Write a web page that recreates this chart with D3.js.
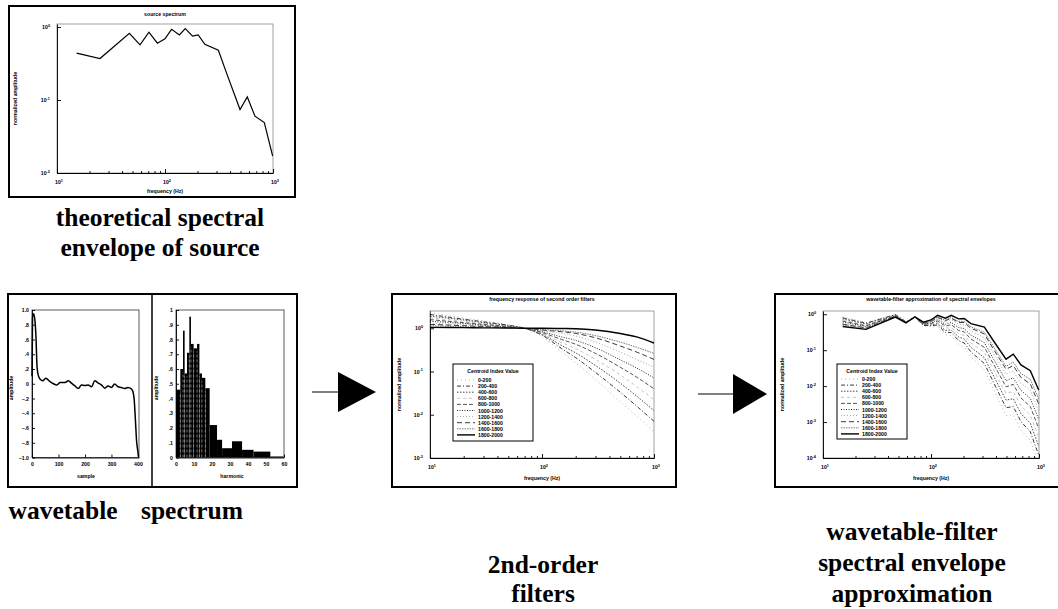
<!DOCTYPE html>
<html>
<head>
<meta charset="utf-8">
<script src="https://cdn.jsdelivr.net/npm/d3@7"></script>
<style>
  body { margin: 0; background: #fff; }
  svg { display: block; }
  .ax path, .ax line { stroke: #000; stroke-width: 0.9; }
</style>
</head>
<body>
<svg id="fig" width="1058" height="609"></svg>
<script>
// ---------------- data ----------------

// theoretical source spectrum (frequency in Hz, normalized amplitude)
const sourceFreq = [15.2, 25, 46.8, 58.7, 71, 85, 100, 115, 136, 154, 180, 203, 234, 312, 373, 495, 578, 681, 831, 993];
const sourceAmp  = [0.44, 0.37, 0.82, 0.57, 0.85, 0.60, 0.69, 0.93, 0.78, 0.95, 0.75, 0.78, 0.58, 0.48, 0.23, 0.074, 0.11, 0.060, 0.049, 0.017];

// one period of the wavetable (sample index, amplitude)
const tableIndex = [0, 2, 6, 11, 15, 19, 24, 31, 41, 52, 69, 81, 94, 106, 125, 137, 150, 162, 175, 187, 200,
                    212, 225, 237, 250, 262, 275, 287, 300, 312, 325, 337, 350, 362, 375, 381, 386, 391, 395, 399, 402];
const tableValue = [0.10, 0.90, 0.95, 0.86, 0.64, 0.23, 0.11, 0.06, 0.04, 0.075, 0.025, 0.0, -0.016, 0.017, 0.017, 0.04, 0.005, -0.03, -0.065, -0.016, -0.025,
                    -0.016, -0.04, 0.04, 0.01, -0.016, -0.06, -0.03, -0.05, -0.004, -0.04, -0.05, -0.065, -0.05, -0.07, -0.105, -0.22, -0.53, -0.78, -0.90, -0.99];
const tableTicks = [0, 100, 200, 300, 400];
const ampTicks = [1, 0.8, 0.6, 0.4, 0.2, 0, -0.2, -0.4, -0.6, -0.8, -1];

// harmonic spectrum of the wavetable (bin edges and bar heights)
const harmonicEdges = [0, 2.4, 3.9, 4.8, 6.1, 7.4, 8.3, 9.8, 11.7, 13, 14.4, 16.3, 18.7, 22.8, 25.6, 31.1, 36.7, 43.1, 52.4, 59.8];
const harmonicAmp   = [0.46, 0.60, 0.86, 0.57, 0.71, 0.955, 0.77, 0.74, 0.77, 0.57, 0.54, 0.47, 0.22, 0.12, 0.063, 0.11, 0.052, 0.04, 0.007];
const harmonicTicks = [0, 10, 20, 30, 40, 50, 60];
const specTicks = [0, 0.1, 0.2, 0.3, 0.4, 0.5, 0.6, 0.7, 0.8, 0.9, 1];

// centroid classes shared by both filter plots
const centroidBins = ["0-200", "200-400", "400-600", "600-800", "800-1000",
                      "1000-1200", "1200-1400", "1400-1600", "1600-1800", "1800-2000"];

// 2nd-order filter magnitude responses, log10 gain per centroid class
const filterFreq = [10, 20, 30, 50, 70, 100, 150, 200, 300, 500, 700, 1000];
const filterGainLog10 = [
  [0.36, 0.24, 0.17, 0.08, 0.00, -0.19, -0.55, -0.80, -1.18, -1.70, -2.03, -2.40],
  [0.32, 0.21, 0.15, 0.07, 0.00, -0.16, -0.47, -0.68, -1.02, -1.48, -1.80, -2.15],
  [0.28, 0.19, 0.13, 0.06, 0.00, -0.14, -0.40, -0.57, -0.86, -1.27, -1.57, -1.90],
  [0.24, 0.16, 0.11, 0.05, 0.00, -0.12, -0.33, -0.47, -0.72, -1.08, -1.35, -1.65],
  [0.20, 0.13, 0.09, 0.04, 0.00, -0.10, -0.26, -0.37, -0.58, -0.90, -1.13, -1.40],
  [0.16, 0.11, 0.07, 0.03, 0.00, -0.08, -0.20, -0.28, -0.45, -0.73, -0.92, -1.15],
  [0.12, 0.08, 0.06, 0.03, 0.00, -0.06, -0.12, -0.18, -0.32, -0.55, -0.72, -0.90],
  [0.09, 0.06, 0.04, 0.02, 0.00, -0.04, -0.08, -0.12, -0.22, -0.41, -0.55, -0.72],
  [0.06, 0.04, 0.03, 0.01, 0.00, -0.03, -0.06, -0.09, -0.17, -0.32, -0.44, -0.58],
  [0.02, 0.015, 0.01, 0.005, 0.00, 0.00, -0.005, -0.01, -0.04, -0.12, -0.20, -0.34]
];

// wavetable-filter approximations of the envelope, log10 amplitude at the source frequencies
const approxLog10 = [
  [-0.07, -0.23, 0.00, -0.21, -0.08, -0.33, -0.35, -0.35, -0.57, -0.60, -0.83, -0.92, -1.18, -1.54, -2.04, -2.82, -2.80, -3.22, -3.51, -4.17],
  [-0.10, -0.25, -0.01, -0.21, -0.08, -0.31, -0.32, -0.30, -0.51, -0.51, -0.73, -0.80, -1.05, -1.37, -1.85, -2.60, -2.57, -2.99, -3.27, -3.92],
  [-0.13, -0.27, -0.02, -0.22, -0.08, -0.30, -0.30, -0.26, -0.45, -0.44, -0.63, -0.69, -0.92, -1.21, -1.67, -2.39, -2.35, -2.77, -3.03, -3.67],
  [-0.16, -0.30, -0.03, -0.22, -0.08, -0.29, -0.28, -0.23, -0.39, -0.37, -0.54, -0.59, -0.80, -1.06, -1.51, -2.20, -2.15, -2.55, -2.80, -3.42],
  [-0.19, -0.32, -0.04, -0.23, -0.08, -0.28, -0.26, -0.19, -0.33, -0.29, -0.45, -0.49, -0.69, -0.92, -1.35, -2.02, -1.95, -2.33, -2.57, -3.17],
  [-0.22, -0.34, -0.05, -0.23, -0.08, -0.27, -0.24, -0.15, -0.28, -0.23, -0.37, -0.40, -0.58, -0.79, -1.21, -1.85, -1.77, -2.12, -2.34, -2.92],
  [-0.26, -0.36, -0.05, -0.23, -0.08, -0.26, -0.22, -0.11, -0.22, -0.15, -0.28, -0.29, -0.47, -0.65, -1.05, -1.67, -1.58, -1.93, -2.11, -2.67],
  [-0.28, -0.38, -0.06, -0.24, -0.08, -0.25, -0.20, -0.09, -0.18, -0.11, -0.23, -0.23, -0.39, -0.55, -0.94, -1.53, -1.43, -1.76, -1.94, -2.49],
  [-0.30, -0.39, -0.07, -0.24, -0.07, -0.24, -0.19, -0.07, -0.16, -0.09, -0.20, -0.20, -0.35, -0.50, -0.87, -1.45, -1.33, -1.65, -1.81, -2.35],
  [-0.34, -0.42, -0.08, -0.24, -0.07, -0.22, -0.16, -0.03, -0.11, -0.03, -0.13, -0.12, -0.26, -0.36, -0.71, -1.25, -1.11, -1.41, -1.57, -2.11]
];

// line style for each centroid class
const binStroke = ["#aaa", "#222", "#333", "#bbb", "#444", "#111", "#999", "#222", "#666", "#000"];
const binDash   = ["1,3", "4,2,1,2", "1.5,1.5", "3,3", "4,2", "1,1.5", "1,2", "5,3", "1.5,1", null];
const binWidth  = [0.9, 0.9, 0.9, 0.9, 0.9, 0.9, 0.9, 0.9, 0.9, 1.4];

// ---------------- drawing ----------------
const svg = d3.select("#fig");
svg.append("rect").attr("width", 1058).attr("height", 609).attr("fill", "#fff");

const SANS = "'Liberation Sans', Arial, sans-serif";
const SERIF = "'Liberation Serif', 'Times New Roman', serif";
const TINY = 5.2;

function tinyText(g, x, y, str, anchor = "middle", rotate = false) {
  const t = g.append("text")
    .attr("font-family", SANS).attr("font-weight", "bold").attr("font-size", TINY)
    .attr("text-anchor", anchor).attr("fill", "#000").text(str);
  if (rotate) t.attr("transform", `translate(${x},${y}) rotate(-90)`);
  else t.attr("x", x).attr("y", y);
  return t;
}

function powText(g, x, y, exp, anchor) {
  const t = g.append("text")
    .attr("x", x).attr("y", y)
    .attr("font-family", SANS).attr("font-weight", "bold").attr("font-size", TINY)
    .attr("text-anchor", anchor);
  t.append("tspan").text("10");
  t.append("tspan").attr("dy", -2.2).attr("font-size", 3.8).text(exp);
}

function box(x, y, w, h) {
  svg.append("rect").attr("x", x).attr("y", y).attr("width", w).attr("height", h)
    .attr("fill", "none").attr("stroke", "#000").attr("stroke-width", 2);
}

let clipId = 0;
function clipFor(g, c) {
  const id = "clip" + (clipId++);
  g.append("clipPath").attr("id", id).append("rect")
    .attr("x", c.l).attr("y", c.t).attr("width", c.r - c.l).attr("height", c.b - c.t);
  return `url(#${id})`;
}

// log-log frequency panel with decade ticks
function logPanel(c) {
  const g = svg.append("g");
  const x = d3.scaleLog().domain([10, 1000]).range([c.l, c.r]);
  const y = d3.scaleLog().domain(c.yDomain).range([c.b, c.t]);
  g.append("rect").attr("x", c.l).attr("y", c.t).attr("width", c.r - c.l).attr("height", c.b - c.t)
    .attr("fill", "none").attr("stroke", "#8a8a8a").attr("stroke-width", 0.8);
  const xMinor = [];
  for (let d = 10; d < 1000; d *= 10) for (let m = 2; m < 10; m++) xMinor.push(d * m);
  g.append("g").attr("class", "ax").attr("transform", `translate(0,${c.b})`)
    .call(d3.axisBottom(x).tickValues(xMinor).tickSizeInner(-2).tickSizeOuter(0).tickFormat(""));
  g.append("g").attr("class", "ax").attr("transform", `translate(0,${c.b})`)
    .call(d3.axisBottom(x).tickValues([10, 100, 1000]).tickSizeInner(-4).tickSizeOuter(0).tickFormat(""));
  g.append("g").attr("class", "ax").attr("transform", `translate(${c.l},0)`)
    .call(d3.axisLeft(y).tickValues(c.yTicks).tickSizeInner(-4).tickSizeOuter(0).tickFormat(""));
  [10, 100, 1000].forEach(v => powText(g, x(v) + 2, c.b + c.xLabDy, Math.round(Math.log10(v)), "middle"));
  c.yTicks.forEach(v => powText(g, c.l - 7, y(v) + 2, Math.round(Math.log10(v)), "end"));
  tinyText(g, (c.l + c.r) / 2, c.titleY, c.title);
  tinyText(g, (c.l + c.r) / 2, c.xTitleY, "frequency (Hz)");
  tinyText(g, c.yTitleX, (c.t + c.b) / 2, "normalized amplitude", "middle", true);
  return { g, x, y, clip: clipFor(g, c) };
}

function legend(g, x0, y0, w, h, rowY) {
  g.append("rect").attr("x", x0).attr("y", y0).attr("width", w).attr("height", h)
    .attr("fill", "#fff").attr("stroke", "#000").attr("stroke-width", 1);
  tinyText(g, x0 + w / 2, y0 + 9, "Centroid Index Value");
  centroidBins.forEach((lab, k) => {
    const yy = y0 + rowY + k * 6.1;
    g.append("line").attr("x1", x0 + 4).attr("x2", x0 + 22).attr("y1", yy).attr("y2", yy)
      .attr("stroke", binStroke[k]).attr("stroke-width", binWidth[k])
      .attr("stroke-dasharray", binDash[k]);
    tinyText(g, x0 + 25, yy + 2, lab, "start");
  });
}

// ---- top: theoretical source spectrum ----
box(9, 6, 286, 191);
{
  const p = logPanel({ l: 57, t: 24, r: 273, b: 173, yDomain: [0.01, 1.1], yTicks: [1, 0.1, 0.01],
    xLabDy: 11, title: "source spectrum", titleY: 16, xTitleY: 193, yTitleX: 17 });
  p.g.append("path")
    .datum(sourceFreq.map((f, i) => [f, sourceAmp[i]]))
    .attr("clip-path", p.clip)
    .attr("fill", "none").attr("stroke", "#000").attr("stroke-width", 1.2)
    .attr("d", d3.line().x(d => p.x(d[0])).y(d => p.y(d[1])));
}

// ---- bottom left: wavetable and its spectrum ----
box(8, 294, 289, 193);
svg.append("line").attr("x1", 152).attr("x2", 152).attr("y1", 294).attr("y2", 487)
  .attr("stroke", "#000").attr("stroke-width", 1.5);
{
  const g = svg.append("g");
  const c = { l: 32, t: 310, r: 139, b: 457.5 };
  const x = d3.scaleLinear().domain([0, 404]).range([c.l, c.r]);
  const y = d3.scaleLinear().domain([-1, 1]).range([c.b, c.t]);
  g.append("rect").attr("x", c.l).attr("y", c.t).attr("width", c.r - c.l).attr("height", c.b - c.t)
    .attr("fill", "none").attr("stroke", "#333").attr("stroke-width", 0.8);
  g.append("g").attr("class", "ax").attr("transform", `translate(0,${c.b})`)
    .call(d3.axisBottom(x).tickValues(tableTicks).tickSizeInner(-3).tickSizeOuter(0).tickPadding(5)
      .tickFormat(d3.format("d")))
    .call(s => s.selectAll("text").attr("font-size", TINY).attr("font-weight", "bold").attr("font-family", SANS));
  g.append("g").attr("class", "ax").attr("transform", `translate(${c.l},0)`)
    .call(d3.axisLeft(y).tickValues(ampTicks).tickSizeInner(-3).tickSizeOuter(0).tickPadding(3)
      .tickFormat(d => d === 0 ? "0" : d3.format(".1f")(d).replace("0.", ".")))
    .call(s => s.selectAll("text").attr("font-size", TINY).attr("font-weight", "bold").attr("font-family", SANS));
  g.append("path")
    .datum(tableIndex.map((v, i) => [v, tableValue[i]]))
    .attr("fill", "none").attr("stroke", "#000").attr("stroke-width", 1.5)
    .attr("d", d3.line().x(d => x(d[0])).y(d => y(d[1])).curve(d3.curveMonotoneX));
  tinyText(g, 86, 478, "sample");
  tinyText(g, 13, 388, "amplitude", "middle", true);
}
{
  const g = svg.append("g");
  const c = { l: 176, t: 310, r: 284, b: 457.5 };
  const x = d3.scaleLinear().domain([0, 60]).range([c.l, c.r]);
  const y = d3.scaleLinear().domain([0, 1]).range([c.b, c.t]);
  const bins = harmonicAmp.map((a, i) => ({ x0: harmonicEdges[i], x1: harmonicEdges[i + 1], a }));
  g.selectAll("rect.bar").data(bins).join("rect").attr("class", "bar")
    .attr("x", d => x(d.x0)).attr("width", d => x(d.x1) - x(d.x0))
    .attr("y", d => y(d.a)).attr("height", d => y(0) - y(d.a))
    .attr("fill", "#000");
  // thin light seams between the narrow low-harmonic bars
  g.selectAll("line.seam").data(bins.slice(1, 12)).join("line").attr("class", "seam")
    .attr("x1", d => x(d.x0)).attr("x2", d => x(d.x0))
    .attr("y1", y(0)).attr("y2", d => y(Math.min(d.a, bins[bins.indexOf(d) - 1].a)) + 3)
    .attr("stroke", "#ddd").attr("stroke-width", 0.5).attr("stroke-dasharray", "3,2");
  g.append("rect").attr("x", c.l).attr("y", c.t).attr("width", c.r - c.l).attr("height", c.b - c.t)
    .attr("fill", "none").attr("stroke", "#333").attr("stroke-width", 0.8);
  g.append("g").attr("class", "ax").attr("transform", `translate(0,${c.b})`)
    .call(d3.axisBottom(x).tickValues(harmonicTicks).tickSizeInner(-3).tickSizeOuter(0).tickPadding(5)
      .tickFormat(d3.format("d")))
    .call(s => s.selectAll("text").attr("font-size", TINY).attr("font-weight", "bold").attr("font-family", SANS));
  g.append("g").attr("class", "ax").attr("transform", `translate(${c.l},0)`)
    .call(d3.axisLeft(y).tickValues(specTicks).tickSizeInner(-3).tickSizeOuter(0).tickPadding(3)
      .tickFormat(d => d === 0 ? "0" : d === 1 ? "1" : d3.format(".1f")(d).replace("0.", ".")))
    .call(s => s.selectAll("text").attr("font-size", TINY).attr("font-weight", "bold").attr("font-family", SANS));
  tinyText(g, 232, 478, "harmonic");
  tinyText(g, 158, 388, "amplitude", "middle", true);
}

// ---- middle: 2nd-order filter responses ----
box(392, 294, 284, 193);
{
  const p = logPanel({ l: 430, t: 311, r: 654, b: 458, yDomain: [0.001, 2.51], yTicks: [1, 0.1, 0.01, 0.001],
    xLabDy: 11, title: "frequency response of second order filters", titleY: 301, xTitleY: 480, yTitleX: 401 });
  const line = d3.line().x(d => p.x(d[0])).y(d => p.y(d[1])).curve(d3.curveMonotoneX);
  filterGainLog10.forEach((row, k) => {
    p.g.append("path")
      .datum(filterFreq.map((f, i) => [f, Math.pow(10, row[i])]))
      .attr("clip-path", p.clip)
      .attr("fill", "none").attr("stroke", binStroke[k]).attr("stroke-width", binWidth[k])
      .attr("stroke-dasharray", binDash[k]).attr("d", line);
  });
  legend(p.g, 453, 364, 80, 77, 16);
}

// ---- right: wavetable-filter approximations ----
box(775, 294, 292, 193);
{
  const p = logPanel({ l: 823, t: 311, r: 1039, b: 458, yDomain: [0.0001, 1.23], yTicks: [1, 0.1, 0.01, 0.001, 0.0001],
    xLabDy: 11, title: "wavetable-filter approximation of spectral envelopes", titleY: 301, xTitleY: 480, yTitleX: 784 });
  const line = d3.line().x(d => p.x(d[0])).y(d => p.y(d[1]));
  approxLog10.forEach((row, k) => {
    p.g.append("path")
      .datum(sourceFreq.map((f, i) => [f, Math.pow(10, row[i])]))
      .attr("clip-path", p.clip)
      .attr("fill", "none").attr("stroke", binStroke[k]).attr("stroke-width", binWidth[k])
      .attr("stroke-dasharray", binDash[k]).attr("d", line);
  });
  legend(p.g, 837, 364, 70, 75, 15);
}

// ---- arrows ----
function arrow(x0, x1, xt, yc) {
  svg.append("line").attr("x1", x0).attr("x2", x1).attr("y1", yc).attr("y2", yc)
    .attr("stroke", "#000").attr("stroke-width", 1);
  svg.append("path").attr("d", `M${x1 - 2},${yc - 20}L${xt},${yc}L${x1 - 2},${yc + 20}Z`).attr("fill", "#000");
}
arrow(312, 340, 376, 392);
arrow(698, 735, 767, 394);

// ---- captions ----
function caption(x, y, str) {
  svg.append("text").attr("x", x).attr("y", y).attr("text-anchor", "middle")
    .attr("font-family", SERIF).attr("font-weight", "bold").attr("font-size", 25.5)
    .attr("fill", "#000").text(str);
}
caption(160, 226, "theoretical spectral");
caption(160, 256, "envelope of source");
caption(63, 519, "wavetable");
caption(192, 519, "spectrum");
caption(543, 573, "2nd-order");
caption(543, 602, "filters");
caption(912, 540, "wavetable-filter");
caption(912, 571, "spectral envelope");
caption(912, 602, "approximation");
</script>
</body>
</html>
